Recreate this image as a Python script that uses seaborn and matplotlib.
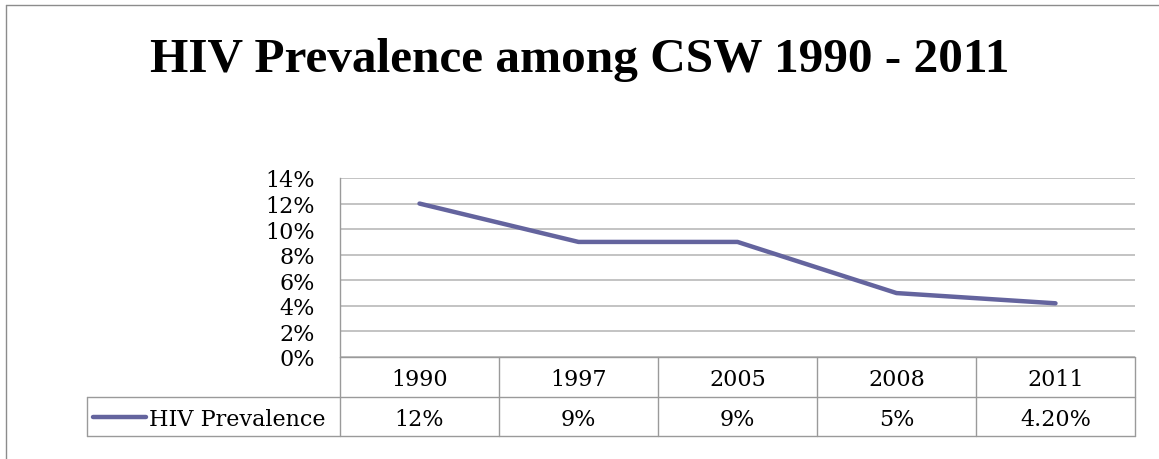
import numpy as np
import pandas as pd
import matplotlib
matplotlib.use("Agg")
import matplotlib.pyplot as plt
import matplotlib.transforms as mtransforms
from matplotlib.lines import Line2D
import seaborn as sns

years = ["1990", "1997", "2005", "2008", "2011"]
prevalence = [12, 9, 9, 5, 4.2]
value_labels = ["12%", "9%", "9%", "5%", "4.20%"]
series_name = "HIV Prevalence"
title = "HIV Prevalence among CSW 1990 - 2011"
y_ticks = [0, 2, 4, 6, 8, 10, 12, 14]

LINE_COLOR = "#64649e"
GRID_COLOR = "#b3b3b3"
TABLE_COLOR = "#9a9a9a"
FS = 16

sns.set_theme(style="white")
plt.rcParams["font.family"] = ["DejaVu Serif", "Liberation Serif"]
plt.rcParams["text.color"] = "black"
plt.rcParams["ytick.color"] = "black"

W, H = 1159, 460
fig = plt.figure(figsize=(W / 100, H / 100), dpi=100)
fig.patch.set_facecolor("white")

# plot area in pixels
left_px, right_px, top_px, bottom_px = 340, 1135, 179, 358
ax = fig.add_axes([left_px / W, 1 - bottom_px / H,
                   (right_px - left_px) / W, (bottom_px - top_px) / H])

df = pd.DataFrame({"pos": np.arange(len(years)), "value": prevalence})
sns.lineplot(data=df, x="pos", y="value", ax=ax, color=LINE_COLOR,
             linewidth=3.2, solid_capstyle="round", solid_joinstyle="round")

ax.set_xlim(-0.5, len(years) - 0.5)
ax.set_ylim(0, 14)
ax.set_yticks(y_ticks)
ax.set_yticklabels([f"{t}%" for t in y_ticks], fontsize=FS, color="black")
ax.set_xticks([])
ax.set_xlabel("")
ax.set_ylabel("")
ax.tick_params(axis="y", length=0, pad=18)
for lab in ax.get_yticklabels():
    lab.set_verticalalignment("center_baseline")
ax.grid(axis="y", color=GRID_COLOR, linewidth=1.1)
ax.set_axisbelow(True)
for side in ["top", "right", "bottom"]:
    ax.spines[side].set_visible(False)
ax.spines["left"].set_color(TABLE_COLOR)
ax.spines["left"].set_linewidth(1.0)

# data table below the plot
trans = mtransforms.blended_transform_factory(ax.transData, ax.transAxes)
plot_h = bottom_px - top_px
r1 = -40 / plot_h
r2 = -79 / plot_h
legend_left = -0.5 - (left_px - 87) / ((right_px - left_px) / len(years))
n = len(years)
kw = dict(transform=trans, color=TABLE_COLOR, linewidth=1.0, clip_on=False)
ax.add_line(Line2D([-0.5, n - 0.5], [0, 0], **kw))
ax.add_line(Line2D([legend_left, n - 0.5], [r1, r1], **kw))
ax.add_line(Line2D([legend_left, n - 0.5], [r2, r2], **kw))
ax.add_line(Line2D([legend_left, legend_left], [r1, r2], **kw))
for i in range(n + 1):
    ax.add_line(Line2D([i - 0.5, i - 0.5], [0, r2], **kw))
for i, (yr, vl) in enumerate(zip(years, value_labels)):
    ax.text(i, r1 / 2, yr, transform=trans, ha="center", va="center_baseline",
            fontsize=FS, color="black")
    ax.text(i, (r1 + r2) / 2, vl, transform=trans, ha="center",
            va="center_baseline", fontsize=FS, color="black")

# legend key in the table
key_y = (r1 + r2) / 2
ax.add_line(Line2D([legend_left + 0.04, legend_left + 0.37], [key_y, key_y],
                   transform=trans, color=LINE_COLOR, linewidth=3.2,
                   solid_capstyle="round", clip_on=False))
ax.text(legend_left + 0.39, key_y, series_name, transform=trans,
        ha="left", va="center_baseline", fontsize=FS, color="black")

fig.text(0.5, 1 - 60 / H, title, ha="center", va="center",
         fontsize=35.5, fontweight="bold", color="black",
         family=["Liberation Serif"])

# outer chart frame (top and left edges)
fig.add_artist(Line2D([6 / W, 1], [1 - 6 / H, 1 - 6 / H],
                      transform=fig.transFigure, color="#8c8c8c", linewidth=1.0))
fig.add_artist(Line2D([6 / W, 6 / W], [0, 1 - 6 / H],
                      transform=fig.transFigure, color="#8c8c8c", linewidth=1.0))

fig.savefig("out.png", dpi=100, facecolor="white")
